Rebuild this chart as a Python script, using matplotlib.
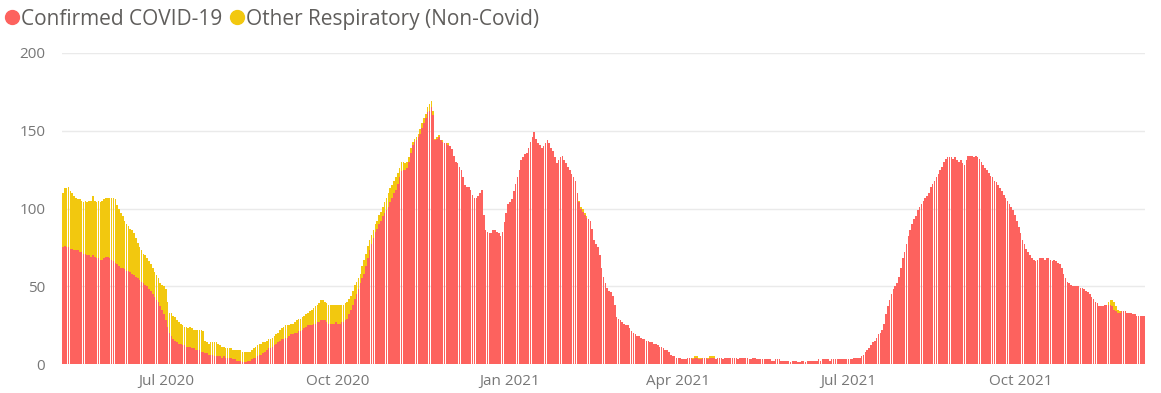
import matplotlib
matplotlib.use('Agg')
import matplotlib.pyplot as plt
import matplotlib.dates as mdates
from matplotlib.lines import Line2D
import pandas as pd

START = '2020-05-07'  # first day shown

# daily patients, confirmed COVID-19
covid = [
    75, 76, 75, 75, 74, 74, 73, 73, 73, 72, 72, 71, 71, 70,
    70, 69, 70, 69, 68, 68, 67, 67, 68, 69, 69, 68, 67, 66,
    65, 64, 63, 62, 62, 61, 60, 60, 59, 58, 57, 56, 55, 54,
    53, 52, 51, 50, 48, 47, 45, 43, 41, 40, 37, 35, 32, 28,
    24, 20, 18, 16, 15, 14, 13, 13, 12, 12, 11, 11, 11, 10,
    10, 9, 9, 9, 8, 8, 7, 7, 6, 6, 6, 5, 5, 5,
    5, 4, 5, 4, 4, 4, 4, 3, 3, 2, 2, 2, 1, 1,
    1, 2, 2, 3, 4, 4, 5, 6, 6, 7, 8, 9, 10, 10,
    11, 12, 13, 14, 15, 16, 16, 17, 17, 18, 19, 19, 20, 20,
    21, 21, 22, 23, 24, 25, 25, 25, 26, 26, 27, 27, 28, 28,
    28, 27, 26, 26, 26, 26, 27, 26, 26, 27, 27, 28, 29, 32,
    35, 38, 42, 45, 48, 52, 55, 58, 63, 68, 73, 77, 81, 85,
    87, 90, 92, 95, 97, 99, 101, 104, 107, 110, 112, 116, 120, 124,
    125, 125, 126, 130, 136, 141, 143, 144, 146, 148, 152, 155, 158, 162,
    163, 165, 160, 144, 145, 146, 144, 143, 142, 142, 141, 140, 138, 134,
    130, 129, 127, 125, 120, 115, 114, 114, 112, 109, 107, 107, 108, 110,
    112, 96, 86, 85, 84, 84, 86, 86, 85, 84, 82, 85, 91, 97,
    103, 104, 106, 111, 116, 120, 125, 131, 133, 135, 136, 139, 143, 146,
    149, 145, 142, 141, 139, 140, 142, 144, 142, 139, 137, 133, 129, 131,
    133, 134, 131, 129, 127, 125, 122, 120, 118, 110, 104, 100, 98, 96,
    94, 93, 92, 87, 80, 77, 75, 70, 62, 56, 52, 49, 47, 46,
    44, 38, 30, 29, 28, 27, 26, 25, 25, 23, 21, 20, 19, 18,
    18, 17, 16, 16, 15, 15, 14, 14, 13, 13, 12, 11, 11, 10,
    9, 9, 8, 6, 5, 5, 4, 4, 4, 3, 3, 3, 4, 4,
    4, 3, 4, 4, 3, 3, 4, 4, 4, 3, 4, 4, 4, 3,
    4, 4, 4, 3, 4, 4, 4, 4, 4, 4, 4, 3, 4, 4,
    4, 4, 4, 3, 3, 4, 4, 3, 3, 3, 3, 3, 3, 3,
    3, 2, 2, 3, 3, 3, 2, 2, 2, 2, 2, 1, 2, 2,
    2, 1, 1, 2, 2, 1, 2, 2, 2, 2, 2, 2, 3, 2,
    3, 3, 3, 3, 2, 3, 3, 3, 3, 3, 3, 3, 3, 3,
    3, 3, 3, 4, 4, 4, 4, 5, 6, 8, 9, 10, 12, 14,
    15, 17, 19, 20, 22, 26, 32, 37, 41, 45, 48, 50, 52, 56,
    62, 68, 72, 77, 82, 86, 90, 93, 95, 99, 101, 103, 105, 107,
    108, 110, 114, 116, 118, 120, 122, 125, 127, 130, 132, 133, 133, 133,
    132, 133, 131, 130, 131, 129, 128, 131, 134, 134, 134, 133, 134, 133,
    132, 130, 128, 126, 125, 123, 121, 120, 118, 117, 115, 113, 111, 109,
    107, 105, 103, 101, 99, 96, 92, 88, 84, 80, 77, 74, 72, 70,
    68, 67, 66, 67, 68, 68, 68, 67, 68, 68, 67, 66, 67, 66,
    65, 64, 62, 58, 55, 53, 52, 51, 50, 50, 50, 50, 49, 49,
    48, 47, 46, 45, 43, 42, 40, 39, 37, 37, 37, 38, 38, 38,
    38, 37, 35, 34, 33, 33, 34, 34, 34, 33, 33, 33, 32, 32,
    31, 31, 31, 31, 31,
]

# daily patients, other respiratory (non-covid)
other = [
    35, 37, 38, 39, 37, 36, 35, 34, 33, 34, 33, 33, 34, 34,
    35, 36, 38, 36, 36, 37, 37, 38, 38, 38, 38, 39, 40, 41,
    41, 38, 37, 35, 33, 31, 30, 29, 28, 28, 27, 25, 23, 21,
    20, 19, 19, 18, 18, 17, 17, 16, 16, 15, 15, 16, 18, 20,
    16, 13, 15, 15, 15, 14, 14, 13, 13, 12, 13, 12, 13, 13,
    12, 13, 13, 13, 14, 13, 8, 7, 7, 8, 8, 9, 9, 8,
    7, 7, 6, 6, 6, 6, 6, 6, 6, 7, 7, 7, 7, 7,
    7, 6, 6, 6, 6, 7, 7, 7, 7, 7, 6, 6, 6, 6,
    6, 6, 6, 6, 7, 7, 8, 8, 8, 7, 7, 7, 7, 8,
    8, 8, 8, 8, 8, 8, 9, 10, 10, 11, 11, 12, 13, 13,
    12, 12, 12, 12, 12, 12, 11, 12, 12, 11, 11, 11, 11, 10,
    9, 9, 9, 8, 7, 6, 8, 9, 8, 8, 7, 6, 5, 5,
    5, 6, 6, 6, 7, 8, 9, 9, 8, 8, 8, 7, 6, 6,
    5, 4, 4, 3, 3, 2, 2, 2, 2, 3, 3, 3, 3, 3,
    4, 4, 3, 1, 1, 1, 0, 1, 0, 0, 1, 0, 0, 0,
    0, 0, 0, 0, 0, 0, 0, 0, 0, 0, 0, 0, 0, 0,
    0, 0, 0, 0, 0, 0, 0, 0, 0, 0, 0, 0, 0, 0,
    0, 0, 0, 0, 0, 0, 0, 0, 0, 0, 0, 0, 0, 0,
    0, 0, 0, 0, 0, 0, 0, 0, 0, 0, 0, 0, 0, 0,
    0, 0, 0, 0, 0, 0, 0, 0, 0, 0, 1, 1, 2, 1,
    1, 0, 0, 0, 0, 0, 0, 0, 0, 0, 0, 0, 0, 0,
    0, 0, 0, 0, 0, 0, 0, 0, 0, 0, 0, 0, 0, 0,
    0, 0, 0, 0, 0, 0, 0, 0, 0, 0, 0, 0, 0, 0,
    0, 0, 0, 0, 0, 0, 0, 0, 0, 0, 0, 0, 0, 0,
    0, 1, 1, 1, 1, 1, 0, 0, 0, 1, 1, 1, 1, 0,
    0, 0, 0, 0, 0, 0, 0, 0, 0, 0, 0, 0, 0, 0,
    0, 0, 0, 0, 0, 0, 0, 0, 0, 0, 0, 0, 0, 0,
    0, 0, 0, 0, 0, 0, 0, 0, 0, 0, 0, 0, 0, 0,
    0, 0, 0, 0, 0, 0, 0, 0, 0, 0, 0, 0, 0, 0,
    0, 0, 0, 0, 0, 0, 0, 0, 0, 0, 0, 0, 0, 0,
    0, 0, 0, 0, 0, 0, 0, 0, 0, 0, 0, 0, 0, 0,
    0, 0, 0, 0, 0, 0, 0, 0, 0, 0, 0, 0, 0, 0,
    0, 0, 0, 0, 0, 0, 0, 0, 0, 0, 0, 0, 0, 0,
    0, 0, 0, 0, 0, 0, 0, 0, 0, 0, 0, 0, 0, 0,
    0, 0, 0, 0, 0, 0, 0, 0, 0, 0, 0, 0, 0, 0,
    0, 0, 0, 0, 0, 0, 0, 0, 0, 0, 0, 0, 0, 0,
    0, 0, 0, 0, 0, 0, 0, 0, 0, 0, 0, 0, 0, 0,
    0, 0, 0, 0, 0, 0, 0, 0, 0, 0, 0, 0, 0, 0,
    0, 0, 0, 0, 0, 0, 0, 0, 0, 0, 0, 0, 0, 0,
    0, 0, 0, 0, 0, 0, 0, 0, 0, 0, 0, 0, 0, 2,
    3, 4, 5, 3, 2, 1, 0, 0, 0, 0, 0, 0, 0, 0,
    0, 0, 0, 0, 0,
]

series_names = ['Confirmed COVID-19', 'Other Respiratory (Non-Covid)']
y_ticks = [0, 50, 100, 150, 200]

RED = '#FD625E'
YELLOW = '#F2C80F'
TEXT = '#605E5C'
W, H = 1161, 393

assert len(covid) == len(other)
days = pd.date_range(START, periods=len(covid), freq='D')

plt.rcParams['font.family'] = ['Open Sans', 'DejaVu Sans']

fig = plt.figure(figsize=(W / 100, H / 100), dpi=100)
ax = fig.add_axes([62 / W, 29 / H, (1145 - 62) / W, (364 - 53) / H])

ax.bar(days, covid, width=0.85, color=RED, linewidth=0, zorder=2)
ax.bar(days, other, bottom=covid, width=0.85, color=YELLOW, linewidth=0, zorder=2)

ax.set_xlim(days[0] - pd.Timedelta(hours=12), days[-1] + pd.Timedelta(hours=12))
ax.set_ylim(0, 200)
ax.set_yticks(y_ticks)
ax.grid(axis='y', color='#EAEAEA', linewidth=1, zorder=0)
ax.xaxis.set_major_locator(mdates.MonthLocator(bymonth=[1, 4, 7, 10]))
ax.xaxis.set_major_formatter(mdates.DateFormatter('%b %Y'))
ax.tick_params(axis='both', length=0, labelsize=11, labelcolor='#777777')
ax.tick_params(axis='y', pad=12)
ax.tick_params(axis='x', pad=7)
for s in ax.spines.values():
    s.set_visible(False)

# legend row along the top edge, laid out in pixels
fig.canvas.draw()
renderer = fig.canvas.get_renderer()
x = 5
y = (H - 17) / H
for name, col in zip(series_names, (RED, YELLOW)):
    dot = Line2D([(x + 7) / W], [y], marker='o', markersize=10, color=col,
                 linestyle='', transform=fig.transFigure)
    fig.add_artist(dot)
    t = fig.text((x + 16) / W, y, name, fontsize=15, color=TEXT,
                 va='center_baseline', ha='left')
    bb = t.get_window_extent(renderer)
    x = bb.x1 + 8

fig.savefig('out.png', dpi=100)
